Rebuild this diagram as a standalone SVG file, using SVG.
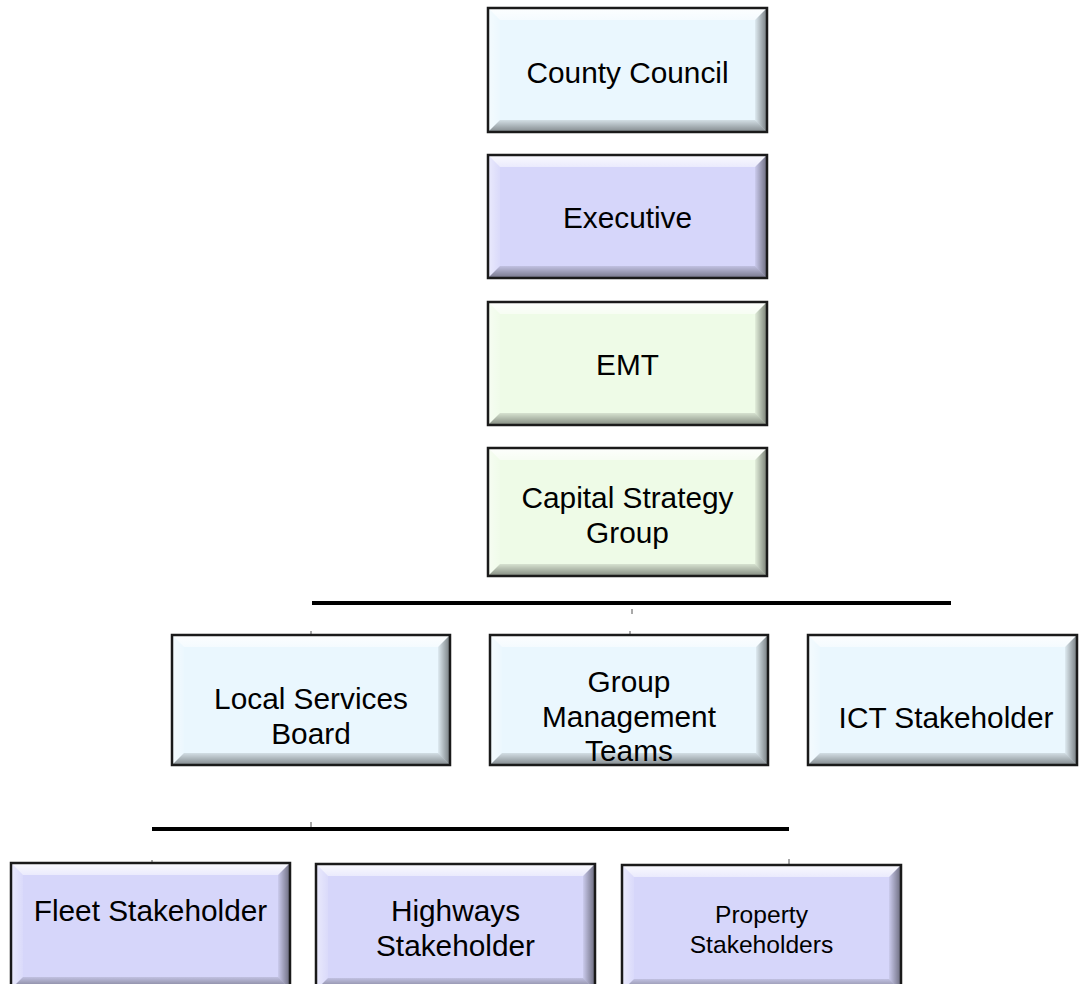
<svg xmlns="http://www.w3.org/2000/svg" width="1079" height="984" viewBox="0 0 1079 984">
<defs>
<linearGradient id="gR" x1="0" y1="0" x2="1" y2="0"><stop offset="0" stop-color="#000" stop-opacity="0.05"/><stop offset="1" stop-color="#000" stop-opacity="0.5"/></linearGradient>
<linearGradient id="gL" x1="1" y1="0" x2="0" y2="0"><stop offset="0" stop-color="#fff" stop-opacity="0.1"/><stop offset="1" stop-color="#fff" stop-opacity="0.5"/></linearGradient>
<linearGradient id="gT" x1="0" y1="1" x2="0" y2="0"><stop offset="0" stop-color="#fff" stop-opacity="0.5"/><stop offset="1" stop-color="#fff" stop-opacity="0.9"/></linearGradient>
<linearGradient id="gB" x1="0" y1="0" x2="0" y2="1"><stop offset="0" stop-color="#000" stop-opacity="0.1"/><stop offset="1" stop-color="#000" stop-opacity="0.45"/></linearGradient>
</defs>
<style>
.blue{fill:#EAF7FE}
.purple{fill:#D6D6FA}
.green{fill:#EEFBE7}
.frame{fill:none;stroke:#1a1a1a;stroke-width:2.5}
.bt{fill:url(#gT)} .bb{fill:url(#gB)} .bl{fill:url(#gL)} .br{fill:url(#gR)}
text{font-family:"Liberation Sans",Arial,sans-serif;font-size:29.8px;fill:#000;text-anchor:middle}
.sm{font-size:24.6px}
.conn{stroke:#000;stroke-width:4;fill:none}
.tick{stroke:#555;stroke-width:1;fill:none}
</style>
<rect width="1079" height="984" fill="#fff"/>
<g id="connectors">
<line class="conn" x1="312" y1="603" x2="951" y2="603"/>
<line class="conn" x1="152" y1="829" x2="789" y2="829"/>
<line class="tick" x1="632" y1="609" x2="632" y2="614"/>
<line class="tick" x1="311" y1="631" x2="311" y2="636"/>
<line class="tick" x1="630" y1="631" x2="630" y2="636"/>
<line class="tick" x1="311" y1="822" x2="311" y2="827"/>
<line class="tick" x1="152" y1="860" x2="152" y2="865"/>
<line class="tick" x1="789" y1="859" x2="789" y2="866"/>
</g>
<g id="county-council" transform="translate(488,8)">
<rect class="blue" width="279" height="124"/>
<polygon class="bt" points="0,0 279,0 267,12 12,12"/>
<polygon class="bl" points="0,0 12,12 12,112 0,124"/>
<polygon class="br" points="279,0 267,12 267,112 279,124"/>
<polygon class="bb" points="0,124 12,112 267,112 279,124"/>
<rect class="frame" width="279" height="124"/>
<text x="139.5" y="75">County Council</text>
</g>
<g id="executive" transform="translate(488,155)">
<rect class="purple" width="279" height="123"/>
<polygon class="bt" points="0,0 279,0 267,12 12,12"/>
<polygon class="bl" points="0,0 12,12 12,111 0,123"/>
<polygon class="br" points="279,0 267,12 267,111 279,123"/>
<polygon class="bb" points="0,123 12,111 267,111 279,123"/>
<rect class="frame" width="279" height="123"/>
<text x="139.5" y="73">Executive</text>
</g>
<g id="emt" transform="translate(488,302)">
<rect class="green" width="279" height="123"/>
<polygon class="bt" points="0,0 279,0 267,12 12,12"/>
<polygon class="bl" points="0,0 12,12 12,111 0,123"/>
<polygon class="br" points="279,0 267,12 267,111 279,123"/>
<polygon class="bb" points="0,123 12,111 267,111 279,123"/>
<rect class="frame" width="279" height="123"/>
<text x="139.5" y="73">EMT</text>
</g>
<g id="capital-strategy-group" transform="translate(488,448)">
<rect class="green" width="279" height="128"/>
<polygon class="bt" points="0,0 279,0 267,12 12,12"/>
<polygon class="bl" points="0,0 12,12 12,116 0,128"/>
<polygon class="br" points="279,0 267,12 267,116 279,128"/>
<polygon class="bb" points="0,128 12,116 267,116 279,128"/>
<rect class="frame" width="279" height="128"/>
<text x="139.5" y="60">Capital Strategy</text>
<text x="139.5" y="95">Group</text>
</g>
<g id="local-services-board" transform="translate(172,635)">
<rect class="blue" width="278" height="130"/>
<polygon class="bt" points="0,0 278,0 266,12 12,12"/>
<polygon class="bl" points="0,0 12,12 12,118 0,130"/>
<polygon class="br" points="278,0 266,12 266,118 278,130"/>
<polygon class="bb" points="0,130 12,118 266,118 278,130"/>
<rect class="frame" width="278" height="130"/>
<text x="139" y="74">Local Services</text>
<text x="139" y="109">Board</text>
</g>
<g id="group-management-teams" transform="translate(490,635)">
<rect class="blue" width="278" height="130"/>
<polygon class="bt" points="0,0 278,0 266,12 12,12"/>
<polygon class="bl" points="0,0 12,12 12,118 0,130"/>
<polygon class="br" points="278,0 266,12 266,118 278,130"/>
<polygon class="bb" points="0,130 12,118 266,118 278,130"/>
<rect class="frame" width="278" height="130"/>
<text x="139" y="57">Group</text>
<text x="139" y="92">Management</text>
<text x="139" y="126">Teams</text>
</g>
<g id="ict-stakeholder" transform="translate(808,635)">
<rect class="blue" width="269" height="130"/>
<polygon class="bt" points="0,0 269,0 257,12 12,12"/>
<polygon class="bl" points="0,0 12,12 12,118 0,130"/>
<polygon class="br" points="269,0 257,12 257,118 269,130"/>
<polygon class="bb" points="0,130 12,118 257,118 269,130"/>
<rect class="frame" width="269" height="130"/>
<text x="138" y="93">ICT Stakeholder</text>
</g>
<g id="fleet-stakeholder" transform="translate(11,863)">
<rect class="purple" width="279" height="126"/>
<polygon class="bt" points="0,0 279,0 267,12 12,12"/>
<polygon class="bl" points="0,0 12,12 12,114 0,126"/>
<polygon class="br" points="279,0 267,12 267,114 279,126"/>
<polygon class="bb" points="0,126 12,114 267,114 279,126"/>
<rect class="frame" width="279" height="126"/>
<text x="139.5" y="58">Fleet Stakeholder</text>
</g>
<g id="highways-stakeholder" transform="translate(316,864)">
<rect class="purple" width="279" height="126"/>
<polygon class="bt" points="0,0 279,0 267,12 12,12"/>
<polygon class="bl" points="0,0 12,12 12,114 0,126"/>
<polygon class="br" points="279,0 267,12 267,114 279,126"/>
<polygon class="bb" points="0,126 12,114 267,114 279,126"/>
<rect class="frame" width="279" height="126"/>
<text x="139.5" y="57">Highways</text>
<text x="139.5" y="92">Stakeholder</text>
</g>
<g id="property-stakeholders" transform="translate(622,865)">
<rect class="purple" width="279" height="126"/>
<polygon class="bt" points="0,0 279,0 267,12 12,12"/>
<polygon class="bl" points="0,0 12,12 12,114 0,126"/>
<polygon class="br" points="279,0 267,12 267,114 279,126"/>
<polygon class="bb" points="0,126 12,114 267,114 279,126"/>
<rect class="frame" width="279" height="126"/>
<text class="sm" x="139.5" y="58">Property</text>
<text class="sm" x="139.5" y="88">Stakeholders</text>
</g>
</svg>
